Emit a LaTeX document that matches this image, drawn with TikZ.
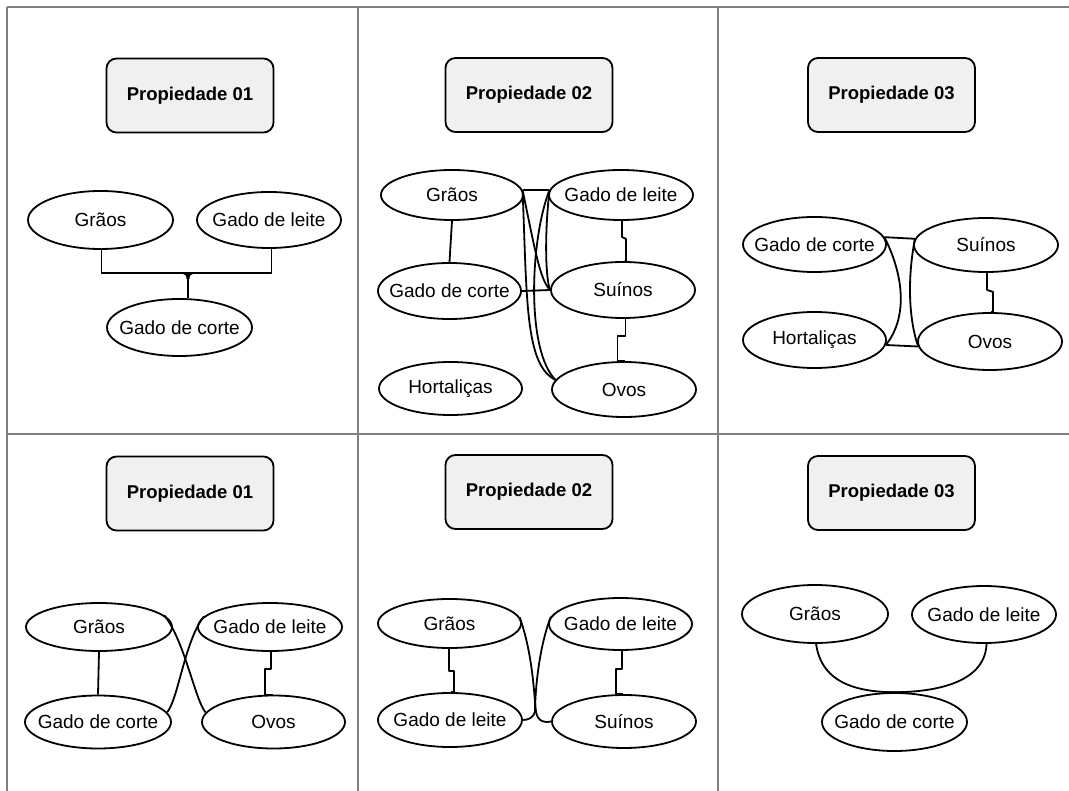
\documentclass[tikz,border=0pt]{standalone}
\usepackage{fontspec}
\setmainfont{Liberation Sans}
\usetikzlibrary{shapes.geometric}
\definecolor{boxgray}{HTML}{F0F0F0}
\definecolor{gridgray}{HTML}{808080}
\newcommand{\mklbl}[1]{\makebox[0pt]{#1}}
\begin{document}
\begin{tikzpicture}[x=1pt,y=-1pt,
  ell/.style={ellipse,draw,line width=1.8pt,inner sep=0pt,font=\fontsize{19}{22}\selectfont},
  prop/.style={draw,line width=1.8pt,rounded corners=10pt,fill=boxgray,minimum width=167pt,minimum height=74pt,inner sep=0pt,font=\fontsize{18.5}{22}\selectfont\bfseries},
  conn/.style={line width=1.8pt,line join=round},
  gridline/.style={draw=gridgray,line width=1.3pt}]
\useasboundingbox (0,0) rectangle (1069,791);
% table grid
\draw[gridline] (7,7) -- (1069,7);
\draw[gridline] (7,434) -- (1069,434);
\draw[gridline] (7,7) -- (7,791);
\draw[gridline] (358,7) -- (358,791);
\draw[gridline] (718,7) -- (718,791);

% ---------- cell 1 ----------
\node[prop] (b1) at (190,95.5) {Propiedade 01};
\node[ell,minimum width=145pt,minimum height=58pt] (g1) at (100.5,220) {\mklbl{Grãos}};
\node[ell,minimum width=144pt,minimum height=56pt] (l1) at (269,220) {\mklbl{Gado de leite}};
\node[ell,minimum width=145pt,minimum height=57pt] (c1) at (179.5,327.5) {\mklbl{Gado de corte}};
\coordinate (j1) at (188,273);
\draw[conn] (g1.-88) |- (j1) -| (l1.-85);
\draw[conn] (j1) -- (j1 |- c1.north);
\draw[conn] (183,273) .. controls (186,273) and (187,275) .. (187.5,279);
\draw[conn] (193,273) .. controls (190,273) and (189,275) .. (188.5,279);

% ---------- cell 2 ----------
\node[prop] (b2) at (529,95) {Propiedade 02};
\node[ell,minimum width=142pt,minimum height=50pt] (g2) at (452,195) {\mklbl{Grãos}};
\node[ell,minimum width=144pt,minimum height=50pt] (l2) at (621,195) {\mklbl{Gado de leite}};
\node[ell,minimum width=143pt,minimum height=56pt] (c2) at (449.5,291) {\mklbl{Gado de corte}};
\node[ell,minimum width=144pt,minimum height=56pt] (s2) at (623,290) {\mklbl{Suínos}};
\node[ell,minimum width=143pt,minimum height=53pt] (h2) at (450.5,388.5) {\mklbl{Hortaliças}};
\node[ell,minimum width=144pt,minimum height=55pt] (o2) at (624,389.5) {\mklbl{Ovos}};
\draw[conn] (g2.south) -- (c2.north);
\draw[conn] (g2.4) -- (l2.176);
\draw[conn] (c2.east) -- (s2.west);
\draw[conn] (l2.-88) -- ++(0,16) -- ++(4,2) |- (s2.87);
\draw[conn] (s2.-85) -- ++(0,17) -- ++(-8,0) |- (o2.89);
\draw[conn] (g2.4) .. controls (535,250) and (540,280) .. (s2.west);
\draw[conn] (l2.176) .. controls (544,240) and (546,280) .. (s2.west);
\draw[conn] (g2.4) .. controls (527,300) and (525,365) .. (o2.172);
\draw[conn] (l2.176) .. controls (530,240) and (526,350) .. (o2.172);

% ---------- cell 3 ----------
\node[prop] (b3) at (891.5,95) {Propiedade 03};
\node[ell,minimum width=143pt,minimum height=55pt] (c3) at (814.5,244.5) {\mklbl{Gado de corte}};
\node[ell,minimum width=144pt,minimum height=54pt] (s3) at (986,245) {\mklbl{Suínos}};
\node[ell,minimum width=143pt,minimum height=56pt] (h3) at (814.5,340) {\mklbl{Hortaliças}};
\node[ell,minimum width=144pt,minimum height=57pt] (o3) at (990,341.5) {\mklbl{Ovos}};
\draw[conn] (c3.6) -- (s3.175);
\draw[conn] (c3.6) .. controls (906,280) and (906,320) .. (h3.-4);
\draw[conn] (s3.175) .. controls (907,280) and (909,320) .. (o3.-176);
\draw[conn] (h3.-4) -- (o3.-176);
\draw[conn] (s3.-88) -- ++(0,17) -- ++(6,2) |- (o3.88);

% ---------- cell 4 ----------
\node[prop] (b4) at (190,493.5) {Propiedade 01};
\node[ell,minimum width=146pt,minimum height=48pt] (g4) at (99,627) {\mklbl{Grãos}};
\node[ell,minimum width=144pt,minimum height=48pt] (l4) at (270,627) {\mklbl{Gado de leite}};
\node[ell,minimum width=146pt,minimum height=53pt] (c4) at (98,722) {\mklbl{Gado de corte}};
\node[ell,minimum width=143pt,minimum height=53pt] (o4) at (273.5,722) {\mklbl{Ovos}};
\draw[conn] (g4.south) -- (c4.north);
\draw[conn] (l4.-87) -- ++(0,17) -- ++(-6,0) |- (o4.92);
\draw[conn] (g4.10) .. controls (185,642) and (195,700) .. (o4.172);
\draw[conn] (l4.171) .. controls (185,640) and (178,700) .. (c4.8);

% ---------- cell 5 ----------
\node[prop] (b5) at (529,492) {Propiedade 02};
\node[ell,minimum width=143pt,minimum height=49pt] (g5) at (449.5,623.5) {\mklbl{Grãos}};
\node[ell,minimum width=143pt,minimum height=52pt] (l5) at (620.5,624) {\mklbl{Gado de leite}};
\node[ell,minimum width=144pt,minimum height=54pt] (m5) at (450,720) {\mklbl{Gado de leite}};
\node[ell,minimum width=144pt,minimum height=53pt] (s5) at (624,721.5) {\mklbl{Suínos}};
\draw[conn] (g5.-92) -- ++(0,22) -- ++(5,0) |- (m5.87);
\draw[conn] (l5.-86) -- ++(0,18) -- ++(-6,0) |- (s5.92);
\coordinate (k5) at (536,712);
\coordinate (q5) at (535,712);
\draw[conn] (g5.5) .. controls (533,655) and (534,695) .. (k5) .. controls (538,722) and (545,723) .. (s5.west);
\draw[conn] (l5.174) .. controls (538,650) and (535,695) .. (q5) .. controls (533,718) and (528,720) .. (m5.east);

% ---------- cell 6 ----------
\node[prop] (b6) at (891.5,493) {Propiedade 03};
\node[ell,minimum width=146pt,minimum height=58pt] (g6) at (815,614) {\mklbl{Grãos}};
\node[ell,minimum width=144pt,minimum height=57pt] (l6) at (984,614.5) {\mklbl{Gado de leite}};
\node[ell,minimum width=145pt,minimum height=58pt] (c6) at (894.5,722) {\mklbl{Gado de corte}};
\draw[conn] (g6.-88) .. controls (822,685) and (860,693) .. (c6.75);
\draw[conn] (l6.-85) .. controls (985,685) and (930,693) .. (c6.105);
\end{tikzpicture}
\end{document}
